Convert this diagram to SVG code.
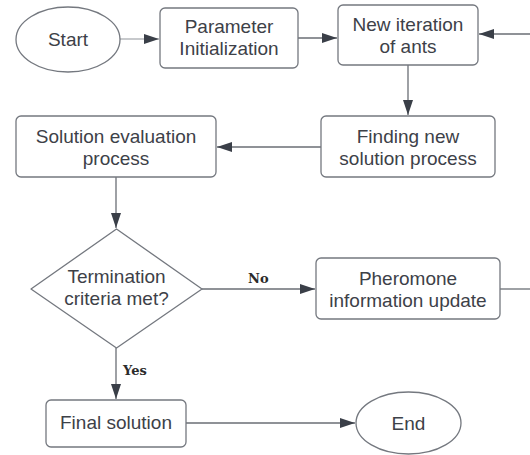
<svg xmlns="http://www.w3.org/2000/svg" width="530" height="455" viewBox="0 0 530 455">
<defs>
<marker id="ah" markerWidth="16" markerHeight="10" refX="15" refY="5" orient="auto" markerUnits="userSpaceOnUse">
<path d="M0,0 L15,5 L0,10 Z" fill="#3a3f48"/>
</marker>
<style>
.n{fill:#fff;stroke:#74787f;stroke-width:1.3}
.t{font-family:"Liberation Sans",Arial,sans-serif;font-size:19px;fill:#3d4148;text-anchor:middle}
.c{fill:none;stroke:#6a6e75;stroke-width:1.3}
.l{font-family:"DejaVu Serif","Liberation Serif",serif;font-weight:bold;font-size:13px;fill:#2b2b2b}
</style>
</defs>
<rect width="530" height="455" fill="#fff"/>
<g id="connectors">
<path class="c" d="M120,39 L159,39" style="stroke:#b4b7bb" marker-end="url(#ah)"/>
<path class="c" d="M298,38 L337,38" marker-end="url(#ah)"/>
<path class="c" d="M530,34 L479,34" marker-end="url(#ah)"/>
<path class="c" d="M408,65 L408,115" marker-end="url(#ah)"/>
<path class="c" d="M321,147 L217,147" marker-end="url(#ah)"/>
<path class="c" d="M116,177 L116,228" marker-end="url(#ah)"/>
<path class="c" d="M202,289 L315,289" marker-end="url(#ah)"/>
<path class="c" d="M500,289 L530,289"/>
<path class="c" d="M116,348 L116,399" marker-end="url(#ah)"/>
<path class="c" d="M186,423 L355,423" marker-end="url(#ah)"/>
<text class="l" x="248" y="283">No</text>
<text class="l" x="123" y="375">Yes</text>
</g>
<g id="start">
<ellipse class="n" cx="68" cy="39.5" rx="52" ry="32.5"/>
<text class="t" x="68" y="46">Start</text>
</g>
<g id="param">
<rect class="n" x="160" y="8" width="138" height="60" rx="5"/>
<text class="t" x="229" y="33">Parameter</text>
<text class="t" x="229" y="55">Initialization</text>
</g>
<g id="newiter">
<rect class="n" x="338" y="5" width="140" height="60" rx="5"/>
<text class="t" x="408" y="31">New iteration</text>
<text class="t" x="408" y="52.5">of ants</text>
</g>
<g id="finding">
<rect class="n" x="321" y="116" width="174" height="61" rx="5"/>
<text class="t" x="408" y="143">Finding new</text>
<text class="t" x="408" y="164.5">solution process</text>
</g>
<g id="evaluation">
<rect class="n" x="16" y="116" width="200" height="61" rx="5"/>
<text class="t" x="116" y="143">Solution evaluation</text>
<text class="t" x="116" y="164.5">process</text>
</g>
<g id="termination">
<path class="n" d="M116.5,229 L202,289 L116.5,348 L31,289 Z" stroke-linejoin="round"/>
<text class="t" x="116.5" y="283">Termination</text>
<text class="t" x="116.5" y="304.5">criteria met?</text>
</g>
<g id="pheromone">
<rect class="n" x="316" y="258" width="184" height="61" rx="5"/>
<text class="t" x="408" y="285">Pheromone</text>
<text class="t" x="408" y="306.5">information update</text>
</g>
<g id="final">
<rect class="n" x="46" y="400" width="140" height="47" rx="5"/>
<text class="t" x="116" y="429">Final solution</text>
</g>
<g id="end">
<ellipse class="n" cx="408.5" cy="423" rx="52.5" ry="31"/>
<text class="t" x="408.5" y="429.5">End</text>
</g>
</svg>
